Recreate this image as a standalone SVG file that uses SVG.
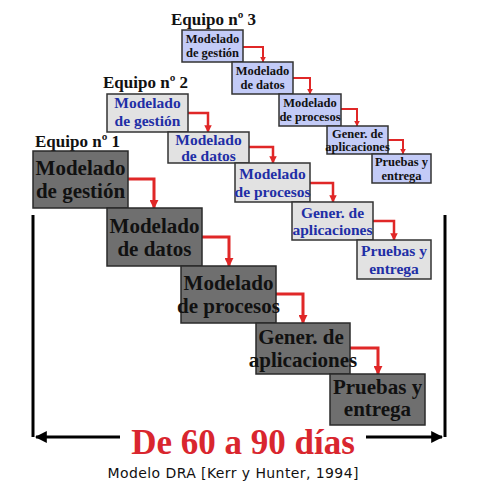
<svg xmlns="http://www.w3.org/2000/svg" width="477" height="503" viewBox="0 0 477 503">
<style>
.b1{fill:#6f6f6f;stroke:#2a2a2a;stroke-width:1.5}
.b2{fill:#e2e2e2;stroke:#333;stroke-width:1.5}
.b3{fill:#c3cbf7;stroke:#333;stroke-width:1.5}
.t1{font-family:"Liberation Serif",serif;font-weight:bold;font-size:21px;fill:#111;text-anchor:middle}
.t2{font-family:"Liberation Serif",serif;font-weight:bold;font-size:15.5px;fill:#1f2fa6;text-anchor:middle}
.t3{font-family:"Liberation Serif",serif;font-weight:bold;font-size:12.5px;fill:#111;text-anchor:middle}
.eq{font-family:"Liberation Serif",serif;font-weight:bold;font-size:17px;fill:#111}
.ra{fill:none;stroke:#e02727;marker-end:url(#ah)}
.bk{fill:none;stroke:#000;stroke-width:3}
</style>
<defs>
<marker id="ah" viewBox="0 0 10 10" markerWidth="3" markerHeight="3" refX="9" refY="5" orient="auto"><path d="M0,0 L10,5 L0,10 z" fill="#e02727"/></marker>
<marker id="bh" viewBox="0 0 10 10" markerWidth="4" markerHeight="4" refX="9" refY="5" orient="auto"><path d="M0,0 L10,5 L0,10 z" fill="#000"/></marker>
</defs>
<rect width="477" height="503" fill="#fff"/>
<text class="eq" x="171" y="25">Equipo nº 3</text>
<text class="eq" x="103" y="88">Equipo nº 2</text>
<text class="eq" x="35" y="147">Equipo nº 1</text>
<g id="connectors">
<path class="ra" stroke-width="2" d="M243,47 H263 V62"/>
<path class="ra" stroke-width="2" d="M293,78 H310 V94"/>
<path class="ra" stroke-width="2" d="M341,109 H357 V126"/>
<path class="ra" stroke-width="2" d="M388,140 H403 V154"/>
<path class="ra" stroke-width="2.5" d="M188,113 H208 V132"/>
<path class="ra" stroke-width="2.5" d="M249,147 H273 V163"/>
<path class="ra" stroke-width="2.5" d="M310,183 H333 V202"/>
<path class="ra" stroke-width="2.5" d="M373,221 H394 V240"/>
<path class="ra" stroke-width="3" d="M128,179 H154 V208"/>
<path class="ra" stroke-width="3" d="M202,237 H229 V266"/>
<path class="ra" stroke-width="3" d="M276,294 H303 V323"/>
<path class="ra" stroke-width="3" d="M350,348 H378 V374"/>
</g>
<g id="t3n1"><rect class="b3" x="182" y="30" width="61" height="32"/><text class="t3" x="212.5" y="43">Modelado</text><text class="t3" x="212.5" y="57">de gestión</text></g>
<g id="t3n2"><rect class="b3" x="232" y="62" width="61" height="32"/><text class="t3" x="262.5" y="75">Modelado</text><text class="t3" x="262.5" y="89">de datos</text></g>
<g id="t3n3"><rect class="b3" x="279" y="94" width="62" height="32"/><text class="t3" x="310" y="107">Modelado</text><text class="t3" x="310" y="121">de procesos</text></g>
<g id="t3n4"><rect class="b3" x="327" y="126" width="61" height="28"/><text class="t3" x="357.5" y="138">Gener. de</text><text class="t3" x="357.5" y="151">aplicaciones</text></g>
<g id="t3n5"><rect class="b3" x="372" y="154" width="59" height="29"/><text class="t3" x="401.5" y="166">Pruebas y</text><text class="t3" x="401.5" y="180">entrega</text></g>
<g id="t2n1"><rect class="b2" x="107" y="94" width="81" height="38"/><text class="t2" x="147.5" y="108">Modelado</text><text class="t2" x="147.5" y="126">de gestión</text></g>
<g id="t2n2"><rect class="b2" x="168" y="132" width="81" height="31"/><text class="t2" x="208.5" y="145">Modelado</text><text class="t2" x="208.5" y="161">de datos</text></g>
<g id="t2n3"><rect class="b2" x="235" y="163" width="75" height="39"/><text class="t2" x="272.5" y="179">Modelado</text><text class="t2" x="272.5" y="197">de procesos</text></g>
<g id="t2n4"><rect class="b2" x="292" y="202" width="81" height="38"/><text class="t2" x="332.5" y="218">Gener. de</text><text class="t2" x="332.5" y="235">aplicaciones</text></g>
<g id="t2n5"><rect class="b2" x="357" y="240" width="74" height="39"/><text class="t2" x="394" y="256">Pruebas y</text><text class="t2" x="394" y="274">entrega</text></g>
<g id="t1n1"><rect class="b1" x="33" y="151" width="95" height="57"/><text class="t1" x="80.5" y="175">Modelado</text><text class="t1" x="80.5" y="198">de gestión</text></g>
<g id="t1n2"><rect class="b1" x="107" y="208" width="95" height="58"/><text class="t1" x="154.5" y="233">Modelado</text><text class="t1" x="154.5" y="256">de datos</text></g>
<g id="t1n3"><rect class="b1" x="181" y="266" width="95" height="57"/><text class="t1" x="228.5" y="290">Modelado</text><text class="t1" x="228.5" y="313">de procesos</text></g>
<g id="t1n4"><rect class="b1" x="256" y="323" width="94" height="51"/><text class="t1" x="301" y="344" font-size="19">Gener. de</text><text class="t1" x="303" y="367" font-size="18">aplicaciones</text></g>
<g id="t1n5"><rect class="b1" x="330" y="374" width="95" height="51"/><text class="t1" x="377.5" y="394">Pruebas y</text><text class="t1" x="377.5" y="416">entrega</text></g>
<g id="bracket">
<path class="bk" d="M33,215 V437"/>
<path class="bk" d="M445,215 V437"/>
<path class="bk" d="M120,437 H36" marker-end="url(#bh)"/>
<path class="bk" d="M366,437 H442" marker-end="url(#bh)"/>
</g>
<text x="243" y="454" font-family="Liberation Serif,serif" font-weight="bold" font-size="35" fill="#d9262e" text-anchor="middle">De 60 a 90 días</text>
<text x="233" y="478" font-family="DejaVu Sans,sans-serif" font-size="14" fill="#111" text-anchor="middle" textLength="251">Modelo DRA [Kerr y Hunter, 1994]</text>
</svg>
